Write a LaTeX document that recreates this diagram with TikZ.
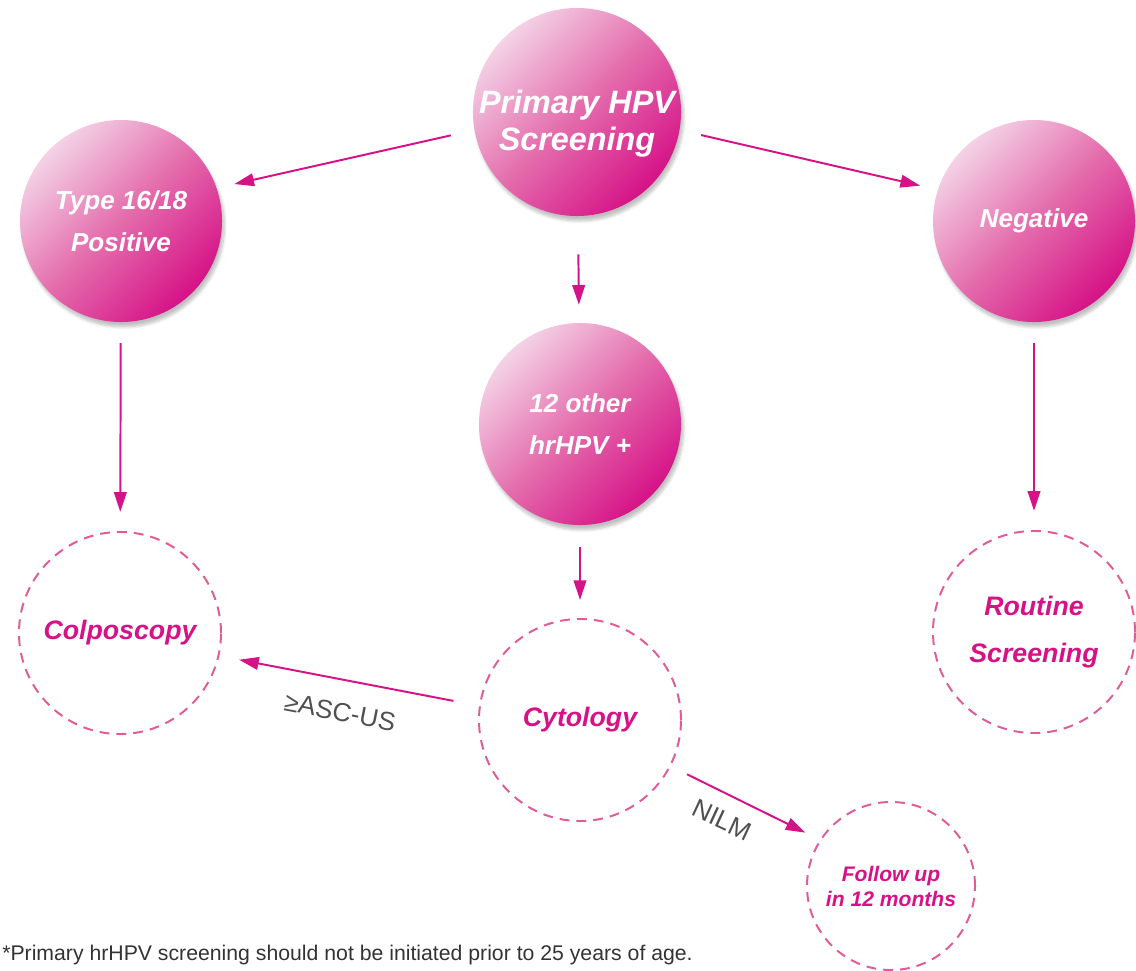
\documentclass[tikz,border=0pt]{standalone}
\usepackage{fontspec}
\setmainfont{Liberation Sans}
\usepackage{xcolor}
\usetikzlibrary{arrows.meta,shadows.blur}

\definecolor{hpvdark}{RGB}{214,18,135}
\definecolor{hpvmid}{RGB}{228,108,172}
\definecolor{hpvlight}{RGB}{244,210,230}
\definecolor{dashpink}{RGB}{224,92,152}
\definecolor{labelgray}{RGB}{80,80,80}

\tikzset{
  ball/.style={circle, minimum size=5.05cm, inner sep=0pt, align=center, text=white,
    font=\fontsize{18.5}{30}\selectfont\bfseries\itshape,
    top color=hpvlight, bottom color=hpvdark, middle color=hpvmid, shading angle=45,
    blur shadow={shadow xshift=0.06cm, shadow yshift=-0.12cm, shadow opacity=25, shadow blur steps=6}},
  ring/.style={circle, draw=dashpink, line width=1.4pt, dash pattern=on 7pt off 5pt,
    minimum size=5.05cm, inner sep=0pt, align=center, text=hpvdark,
    font=\fontsize{19}{33}\selectfont\bfseries\itshape},
  arr/.style={draw=hpvdark, line width=1.4pt, -{Triangle[length=14pt,width=9pt]}},
  branch/.style={text=labelgray, inner sep=0pt, font=\fontsize{18.5}{20}\selectfont}
}

\begin{document}
\begin{tikzpicture}[x=0.025cm, y=-0.025cm]
\useasboundingbox (0,0) rectangle (1136,971);

% screening results
\node[ball, minimum size=5.2cm] (top) at (577,112) {};
\node[text=white, align=center, font=\fontsize{23}{26.5}\selectfont\bfseries\itshape] (toptext) at (577,124) {Primary HPV\\Screening};
\node[ball] (type) at (121,221) {Type 16/18\\Positive};
\node[ball] (neg) at (1034,221) {Negative};
\node[ball] (other) at (580,424) {12 other\\hrHPV +};

% next steps
\node[ring] (colp) at (120,633) {Colposcopy};
\node[ring] (cyt) at (580,720) {Cytology};
\node[ring] (routine) at (1034,632) {Routine\\Screening};
\node[ring, minimum size=4.2cm, font=\fontsize{15}{17.8}\selectfont\bfseries\itshape] (follow) at (891,886) {Follow up\\in 12 months};

% arrows
\draw[arr, shorten <=0.6cm, shorten >=0.45cm] (top.190) -- (type.19);
\draw[arr, shorten <=0.55cm, shorten >=0.45cm] (top.-10) -- (neg.162);
\draw[arr, shorten <=0.95cm, shorten >=0.45cm] (top) -- (other);
\draw[arr, shorten <=0.52cm, shorten >=0.48cm] (type) -- (colp);
\draw[arr, shorten <=0.52cm, shorten >=0.48cm] (neg) -- (routine);
\draw[arr, shorten <=0.55cm, shorten >=0.45cm] (other) -- (cyt);
\draw[arr, shorten <=0.65cm, shorten >=0.5cm] (cyt.172) -- (colp.-13);
\draw[arr, shorten <=0.45cm, shorten >=0.4cm] (cyt.-27) -- (follow.147);

% ... labels
\node[branch, rotate=-11] (asc) at (340,712) {≥ASC-US};
\node[branch, rotate=-25] (nilm) at (722,820) {NILM};

% footnote
\node[anchor=west, inner sep=0pt, text=black!80, font=\fontsize{15.1}{16}\selectfont] (note) at (2,955) {*Primary hrHPV screening should not be initiated prior to 25 years of age.};

\end{tikzpicture}
\end{document}
